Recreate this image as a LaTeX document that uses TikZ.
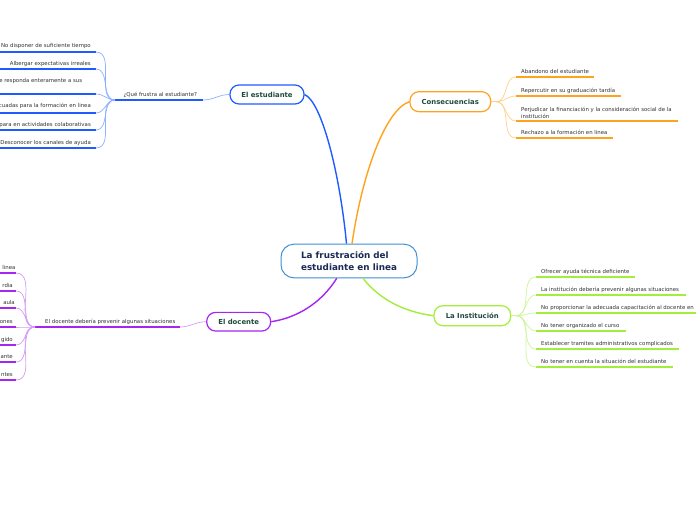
\documentclass[tikz,border=0pt]{standalone}
\usepackage{fontspec}
\setmainfont{DejaVu Sans}
\definecolor{azul}{HTML}{1F5CFF}
\definecolor{azulclaro}{HTML}{8FB0FF}
\definecolor{naranja}{HTML}{FFA31F}
\definecolor{naranjaclaro}{HTML}{FFD08A}
\definecolor{verde}{HTML}{A2EE3A}
\definecolor{verdeclaro}{HTML}{CDF59A}
\definecolor{morado}{HTML}{A526F0}
\definecolor{moradoclaro}{HTML}{D49CF7}
\definecolor{celeste}{HTML}{3D8FD6}
\definecolor{titulo}{HTML}{1B2A57}
\definecolor{verdeosc}{HTML}{1D4B3C}
\definecolor{gris}{HTML}{333333}

\begin{document}
\begin{tikzpicture}[x=1pt, y=-1pt,
    tema/.style={draw=#1, line width=1.2pt, rounded corners=9pt, fill=white,
        text=verdeosc, font=\fontsize{6.9}{8}\selectfont\bfseries, inner sep=0pt},
    hoja/.style={text=gris, font=\fontsize{5.4}{7}\selectfont, inner sep=0pt},
    rama/.style={draw=#1, line width=0.7pt},
    raya/.style={draw=#1, line width=2pt},
    eje/.style={draw=#1, line width=1.4pt}]
    \useasboundingbox (0,0) rectangle (696,520);
    \clip (0,0) rectangle (696,520);
    \fill[white] (0,0) rectangle (696,520);

    % nodo central y temas
    \node[draw=celeste, line width=1pt, rounded corners=13pt, fill=white,
        minimum width=136pt, minimum height=33.7pt, inner sep=0pt, align=left,
        text=titulo, font=\fontsize{8.8}{11.7}\selectfont\bfseries] (centro) at (349,261)
        {La frustración del\\estudiante en linea};
    \node[tema=azul, minimum width=74pt, minimum height=19pt] (est) at (267,94.5) {El estudiante};
    \node[tema=naranja, minimum width=80.7pt, minimum height=20pt] (cons) at (450.3,101.7) {Consecuencias};
    \node[tema=verde, minimum width=76.7pt, minimum height=20pt] (inst) at (472.3,315.7) {La Institución};
    \node[tema=morado, minimum width=64pt, minimum height=18.7pt] (doc) at (238.7,321.7) {El docente};

    \draw[eje=azul] ([xshift=-2.5pt]centro.north) .. controls (340,175) and (322,102) .. (est.east);
    \draw[eje=naranja] ([xshift=3pt]centro.north) .. controls (362,175) and (385,110) .. (cons.west);
    \draw[eje=morado] ([xshift=-12.3pt]centro.south) .. controls (320,305) and (295,318) .. (doc.east);
    \draw[eje=verde] ([xshift=14pt]centro.south) .. controls (380,300) and (405,312) .. (inst.west);

    % el estudiante
    \coordinate (qe) at (203,100);
    \coordinate (hubE) at (115,100);
    \draw[rama=azulclaro] (est.west) to[out=180,in=0] (qe);
    \draw[line width=2.4pt, azul] (hubE) -- (qe);
    \node[hoja, anchor=base west] (qtxt) at (123.3,96) {¿Qué frustra al estudiante?};
    \foreach \uy/\by/\xr/\t [count=\i] in {
        52/47.5/91/No disponer de suficiente tiempo,
        69/65/91/Albergar expectativas irreales,
        94/82.8/82.3/e responda enteramente a sus,
        113/107.8/91/cuadas para la formación en linea,
        130/126.3/91/para en actividades colaborativas,
        148/144.3/91/Desconocer los canales de ayuda}{
        \coordinate (e\i) at (96,\uy);
        \draw[rama=azulclaro] (hubE) to[out=180,in=0] (e\i);
        \draw[raya=azul] (e\i) -- (-5,\uy);
        \node[hoja, anchor=base east] (et\i) at (\xr,\by) {\t};
    }

    % consecuencias
    \coordinate (hubC) at (496,101.7);
    \draw[rama=naranjaclaro] (cons.east) -- (hubC);
    \foreach \uy/\xe/\t [count=\i] in {
        77/594/Abandono del estudiante,
        96/621/Repercutir en su graduación tardía,
        121/678/{},
        138/613/Rechazo a la formación en linea}{
        \coordinate (c\i) at (516,\uy);
        \draw[rama=naranjaclaro] (hubC) to[out=0,in=180] (c\i);
        \draw[raya=naranja] (c\i) -- (\xe,\uy);
        \node[hoja, anchor=base west] (ct\i) at (521,\uy-4) {\t};
    }
    \node[hoja, anchor=south west, align=left] (ct5) at (521,118.4)
        {Perjudicar la financiación y la consideración social de la\\institución};

    % la institucion
    \coordinate (hubI) at (516,315.7);
    \draw[rama=verdeclaro] (inst.east) -- (hubI);
    \foreach \uy/\xe/\t [count=\i] in {
        277/635/Ofrecer ayuda técnica deficiente,
        295/686/La institución debería prevenir algunas situaciones,
        313/700/No proporcionar la adecuada capacitación al docente en,
        331/626/No tener organizado el curso,
        349/679/Establecer tramites administrativos complicados,
        367/673/No tener en cuenta la situación del estudiante}{
        \coordinate (i\i) at (536,\uy);
        \draw[rama=verdeclaro] (hubI) to[out=0,in=180] (i\i);
        \draw[raya=verde] (i\i) -- (\xe,\uy);
        \node[hoja, anchor=base west] (it\i) at (541,\uy-4) {\t};
    }

    % el docente
    \coordinate (qd) at (180,327);
    \coordinate (hubD) at (35,327);
    \draw[rama=moradoclaro] (doc.west) to[out=180,in=0] (qd);
    \draw[line width=2.4pt, morado] (hubD) -- (qd);
    \node[hoja, anchor=base west] (dtxt) at (45,323) {El docente debería prevenir algunas situaciones};
    \foreach \uy/\xr/\t [count=\i] in {
        273/15.7/linea,
        291/13/rdia,
        308/15/aula,
        327/13/ones,
        345/13/gido,
        362/13/ante,
        380/13/ntes}{
        \coordinate (d\i) at (16,\uy);
        \draw[rama=moradoclaro] (hubD) to[out=180,in=0] (d\i);
        \draw[raya=morado] (d\i) -- (-5,\uy);
        \node[hoja, anchor=base east] (dt\i) at (\xr,\uy-4) {\t};
    }
\end{tikzpicture}
\end{document}
